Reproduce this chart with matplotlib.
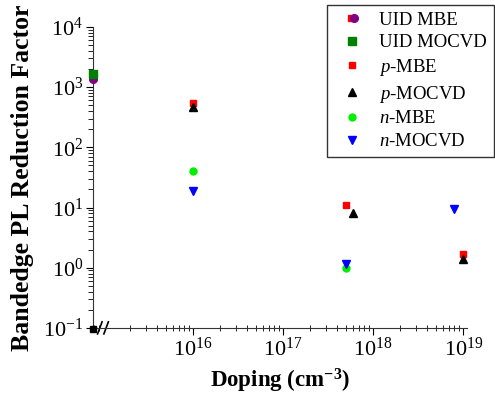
import matplotlib
matplotlib.use("Agg")
import matplotlib.pyplot as plt
from matplotlib.legend_handler import HandlerTuple
import numpy as np

plt.rcParams['font.family'] = ['Liberation Serif', 'DejaVu Serif']
plt.rcParams['mathtext.fontset'] = 'custom'
plt.rcParams['mathtext.rm'] = 'Liberation Serif'
plt.rcParams['mathtext.it'] = 'Liberation Serif:italic'
plt.rcParams['mathtext.bf'] = 'Liberation Serif:bold'

# data (UID samples plotted on the left axis edge)
x_edge = 10 ** 14.89
uid_mbe_x = [x_edge]; uid_mbe_y = [1350]
uid_mocvd_x = [x_edge]; uid_mocvd_y = [1650]
p_mbe_x = [1e16, 5e17, 1e19]; p_mbe_y = [540, 11, 1.7]
p_mocvd_x = [1e16, 6e17, 1e19]; p_mocvd_y = [460, 8.2, 1.4]
n_mbe_x = [1e16, 5e17]; n_mbe_y = [40, 1.0]
n_mocvd_x = [1e16, 5e17, 8e18]; n_mocvd_y = [19, 1.17, 9.6]

fig = plt.figure(figsize=(4.95, 3.96), dpi=100)
ax = fig.add_axes([0.188, 0.172, 0.755, 0.760])
ax.set_xscale('log'); ax.set_yscale('log')
ax.set_xlim(10 ** 14.89, 10 ** 19.04)
ax.set_ylim(0.1, 1e4)

h_uid_mbe_sq, = ax.plot([], [], 's', color='red', ms=4.5, ls='none')
h_uid_mbe = ax.plot(uid_mbe_x, uid_mbe_y, 'o', color='purple', ms=5.5, ls='none', clip_on=False, zorder=5)[0]
h_uid_mocvd = ax.plot(uid_mocvd_x, uid_mocvd_y, 's', color='green', ms=5.5, ls='none', clip_on=False, zorder=6)[0]
h_p_mbe = ax.plot(p_mbe_x, p_mbe_y, 's', color='red', ms=4.5, ls='none', clip_on=False)[0]
h_p_mocvd = ax.plot(p_mocvd_x, p_mocvd_y, '^', color='black', ms=5.5, ls='none', clip_on=False)[0]
h_n_mbe = ax.plot(n_mbe_x, n_mbe_y, 'o', color='#00ee00', ms=5, ls='none', clip_on=False)[0]
h_n_mocvd = ax.plot(n_mocvd_x, n_mocvd_y, 'v', color='blue', ms=5.5, ls='none', clip_on=False)[0]

# corner marker and axis break
ax.plot([x_edge], [10 ** -1.02], 's', color='black', ms=5, clip_on=False, zorder=6)
for dx in (0.05, 0.12):
    ax.plot([10 ** (14.89 + dx), 10 ** (14.89 + dx + 0.05)], [10 ** -1.1, 10 ** -0.9],
            color='black', lw=1.2, clip_on=False)

for s in ('top', 'right'):
    ax.spines[s].set_visible(False)
ax.spines['left'].set_color('#333333')
ax.spines['bottom'].set_color('#333333')

ax.set_xticks([1e16, 1e17, 1e18, 1e19])
ax.set_xticklabels([r'$10^{16}$', r'$10^{17}$', r'$10^{18}$', r'$10^{19}$'])
ax.set_yticks([0.1, 1, 10, 100, 1000, 1e4])
ax.set_yticklabels([r'$10^{-1}$', r'$10^{0}$', r'$10^{1}$', r'$10^{2}$', r'$10^{3}$', r'$10^{4}$'])
ax.tick_params(which='major', direction='out', length=5, labelsize=16, pad=2)
ax.tick_params(axis='y', which='minor', direction='out', length=3.5)
ax.tick_params(axis='x', which='minor', direction='inout', length=4)

ax.set_xlabel(r'Doping (cm$^{\mathbf{-3}}$)', fontsize=16.5, fontweight='bold', labelpad=4)
ax.set_ylabel('Bandedge PL Reduction Factor', fontsize=18.5, fontweight='bold')
ax.yaxis.set_label_coords(-0.158, 0.5)

leg = ax.legend([(h_uid_mbe_sq, h_uid_mbe), h_uid_mocvd, h_p_mbe, h_p_mocvd, h_n_mbe, h_n_mocvd],
                ['UID MBE', 'UID MOCVD', r'$\it{p}$-MBE', r'$\it{p}$-MOCVD', r'$\it{n}$-MBE', r'$\it{n}$-MOCVD'],
                handler_map={tuple: HandlerTuple(ndivide=None, pad=-1.7)},
                loc='upper right', bbox_to_anchor=(1.072, 1.073), fontsize=13.5, frameon=True,
                fancybox=False, edgecolor='black', handlelength=2.0, handletextpad=0.45,
                labelspacing=0.3, borderpad=0.35, borderaxespad=0)
leg.get_frame().set_linewidth(1.0)

fig.savefig('out.png', dpi=100)
